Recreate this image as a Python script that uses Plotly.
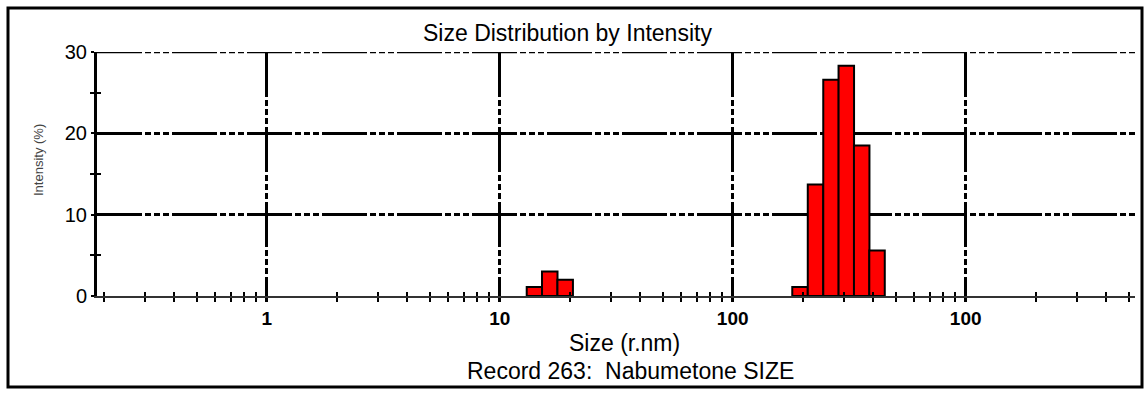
import numpy as np
import plotly.graph_objects as go

# Size bins (radius, nm) and their intensity share (%)
size_nm = [14.1, 16.4, 19.1, 194.5, 226.7, 264.2, 307.3, 357.8, 416.3]
intensity_pct = [1.1, 3.0, 2.0, 1.1, 13.7, 26.6, 28.3, 18.5, 5.6]
bin_width_dec = 0.0665  # bin width in decades

major_x = [1, 10, 100, 1000]
major_x_text = ["1", "10", "100", "100"]
minor_x = [m * 10.0 ** d for d in range(-1, 4) for m in range(2, 10)]
y_ticks = [0, 10, 20, 30]
y_minor = [5, 15, 25]

W, H = 1144, 394
L, R, T, B = 97, 1135, 52, 296
x_range = [(L - 266.7) / 233.0, (R - 266.7) / 233.0]
minor_x = [v for v in minor_x if x_range[0] < np.log10(v) < x_range[1]]


def px_x(px):
    return (px - L) / (R - L)


def px_y(py):
    return (B - py) / (B - T)


fig = go.Figure()

# histogram bars, each spanning its bin in log space
for s, v in zip(size_nm, intensity_pct):
    lo = 10 ** (np.log10(s) - bin_width_dec / 2)
    hi = 10 ** (np.log10(s) + bin_width_dec / 2)
    fig.add_trace(go.Scatter(
        x=[lo, lo, hi, hi, lo], y=[0, v, v, 0, 0],
        mode="lines", fill="toself", fillcolor="#ff0000",
        line=dict(color="black", width=2), hoverinfo="skip",
        showlegend=False,
    ))

# invisible traces to activate overlay axes carrying crossing tick marks
fig.add_trace(go.Scatter(x=[1], y=[0], xaxis="x2", yaxis="y", mode="markers",
                         marker=dict(opacity=0), showlegend=False, hoverinfo="skip"))
fig.add_trace(go.Scatter(x=[1], y=[0], xaxis="x", yaxis="y2", mode="markers",
                         marker=dict(opacity=0), showlegend=False, hoverinfo="skip"))

grid_dash = "45px,3px,6px,3px,6px,3px,6px,3px"
FONT = "Liberation Sans, Arial"

fig.update_layout(
    width=W, height=H,
    margin=dict(l=L, r=W - R, t=T, b=H - B),
    paper_bgcolor="white", plot_bgcolor="white",
    font=dict(family=FONT, color="black"),
    xaxis=dict(
        type="log", range=x_range,
        tickvals=major_x, ticktext=major_x_text,
        tickfont=dict(size=19, family=FONT, weight="bold"),
        ticks="outside", ticklen=4, tickwidth=3, tickcolor="black",
        showgrid=True, gridcolor="black", gridwidth=3, griddash=grid_dash,
        showline=True, linecolor="#333333", linewidth=1.5,
        zeroline=False,
        minor=dict(tickvals=minor_x, ticks="outside", ticklen=4,
                   tickwidth=1.5, tickcolor="black", showgrid=False),
    ),
    xaxis2=dict(
        type="log", range=x_range, overlaying="x", side="bottom",
        tickvals=minor_x + major_x, ticks="inside", ticklen=4, tickwidth=1.5,
        tickcolor="black", showticklabels=False, showgrid=False,
        showline=False, zeroline=False,
    ),
    yaxis=dict(
        range=[0, 30], tickvals=y_ticks,
        tickfont=dict(size=20, family=FONT),
        ticks="outside", ticklen=3, tickwidth=2, tickcolor="black",
        showgrid=True, gridcolor="black", gridwidth=2.5, griddash=grid_dash,
        showline=True, linecolor="black", linewidth=3, zeroline=False,
        minor=dict(tickvals=y_minor, ticks="outside", ticklen=4,
                   tickwidth=2, tickcolor="black", showgrid=False),
    ),
    yaxis2=dict(
        range=[0, 30], overlaying="y", side="left",
        tickvals=y_minor, ticks="inside", ticklen=4, tickwidth=2,
        tickcolor="black", showticklabels=False, showgrid=False,
        showline=False, zeroline=False,
    ),
    annotations=[
        dict(text="Size Distribution by Intensity", xref="paper", yref="paper",
             x=px_x(567), y=px_y(33), showarrow=False, xanchor="center",
             yanchor="middle", font=dict(size=23, color="black")),
        dict(text="Size (r.nm)", xref="paper", yref="paper",
             x=px_x(624), y=px_y(343), showarrow=False, xanchor="center",
             yanchor="middle", font=dict(size=23, color="black")),
        dict(text="Record 263:  Nabumetone SIZE", xref="paper", yref="paper",
             x=px_x(630), y=px_y(371), showarrow=False, xanchor="center",
             yanchor="middle", font=dict(size=23, color="black")),
        dict(text="Intensity (%)", xref="paper", yref="paper",
             x=px_x(38), y=px_y(160), showarrow=False, xanchor="center",
             yanchor="middle", textangle=-90,
             font=dict(size=13, color="#444444")),
    ],
    shapes=[
        # top gridline at the upper range edge
        dict(type="line", xref="paper", yref="y", x0=0, x1=1,
             y0=y_ticks[-1], y1=y_ticks[-1],
             line=dict(color="black", width=2.5, dash=grid_dash), layer="below"),
        dict(type="rect", xref="paper", yref="paper",
             x0=px_x(8), x1=px_x(1142), y0=px_y(387), y1=px_y(8),
             line=dict(color="black", width=3), layer="below"),
    ],
)

fig.write_html("out.html")
